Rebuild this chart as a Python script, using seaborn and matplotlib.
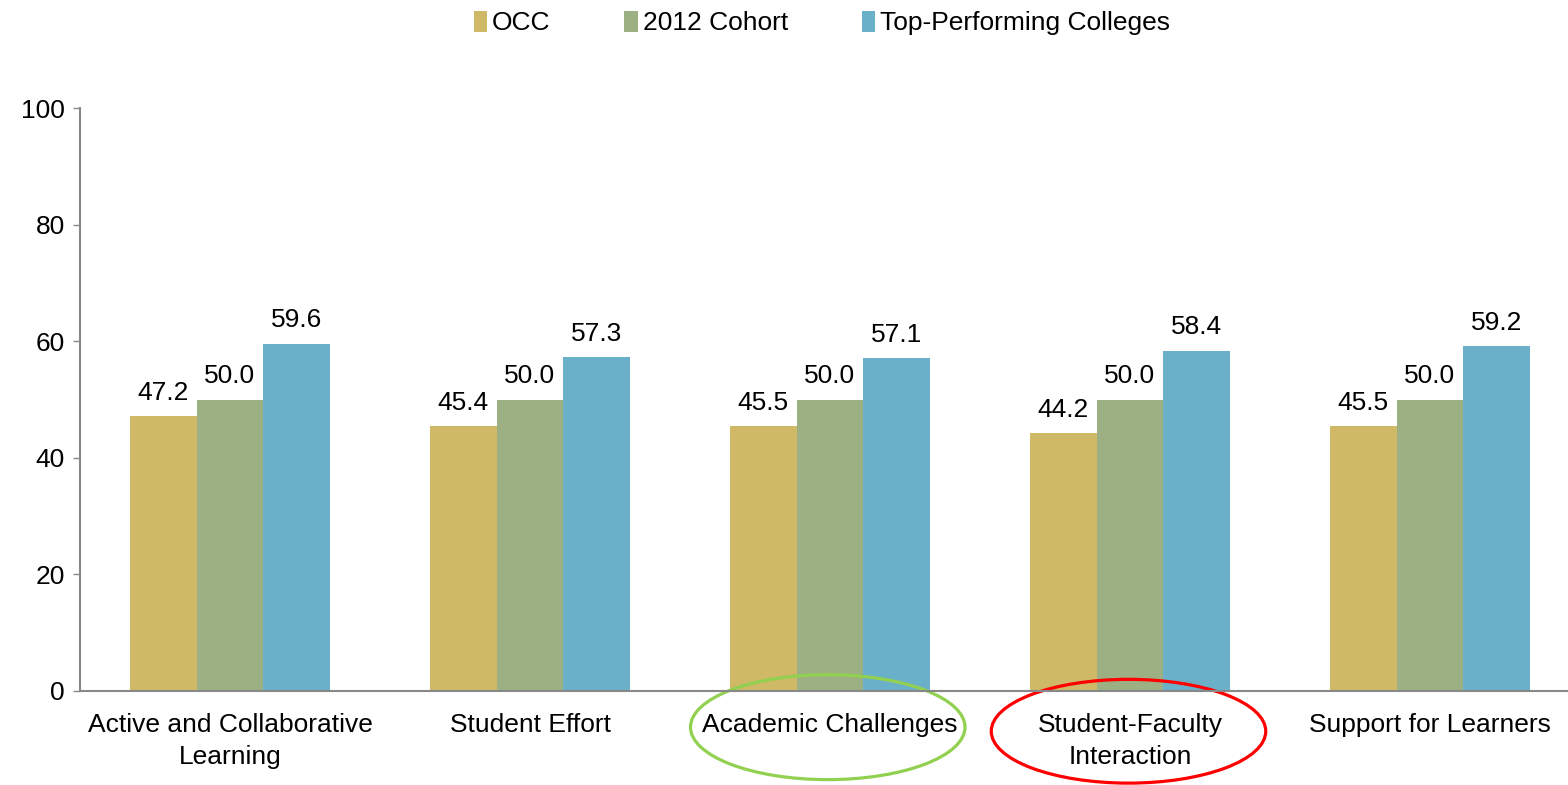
import pandas as pd
import seaborn as sns
import matplotlib.pyplot as plt
from matplotlib.patches import Ellipse

categories = ["Active and Collaborative\nLearning", "Student Effort", "Academic Challenges",
              "Student-Faculty\nInteraction", "Support for Learners"]
series = ["OCC", "2012 Cohort", "Top-Performing Colleges"]
occ = [47.2, 45.4, 45.5, 44.2, 45.5]
cohort = [50.0, 50.0, 50.0, 50.0, 50.0]
top = [59.6, 57.3, 57.1, 58.4, 59.2]
colors = ["#CFB967", "#9DB084", "#6AB0C9"]

df = pd.DataFrame({
    "category": categories * 3,
    "group": [s for s in series for _ in categories],
    "score": occ + cohort + top,
})

sns.set_style("white")
plt.rcParams['font.family'] = ['Liberation Sans', 'DejaVu Sans']
plt.rcParams['text.color'] = 'black'
plt.rcParams['xtick.color'] = 'black'
plt.rcParams['ytick.color'] = 'black'

fs = 19

fig = plt.figure(figsize=(15.68, 7.85), dpi=100)
ax = fig.add_axes([80 / 1568, 94 / 785, 1500 / 1568, 583 / 785])

sns.barplot(data=df, x="category", y="score", hue="group", palette=colors,
            width=0.667, gap=0, saturation=1, linewidth=0, ax=ax, legend=True)

for container in ax.containers:
    ax.bar_label(container, fmt="%.1f", padding=8, fontsize=fs, color="black")

ax.set_xlim(-0.5, 4.5)
ax.set_ylim(0, 100)
ax.set_yticks([0, 20, 40, 60, 80, 100])
ax.set_xlabel("")
ax.set_ylabel("")
ax.tick_params(axis="y", labelsize=fs, length=5, width=1, color="#888888", labelcolor="black",
               left=True, pad=6)
ax.tick_params(axis="x", labelsize=fs, length=0, pad=16, labelcolor="black")
for lbl in ax.get_xticklabels():
    lbl.set_linespacing(1.4)
for side in ["top", "right"]:
    ax.spines[side].set_visible(False)
for side in ["left", "bottom"]:
    ax.spines[side].set_color("#888888")
    ax.spines[side].set_linewidth(1.5)

handles, labels = ax.get_legend_handles_labels()
ax.get_legend().remove()
fig.legend(handles, labels, loc="center", bbox_to_anchor=(822 / 1568, 1 - 23 / 785),
           ncol=3, frameon=False, fontsize=fs, handlelength=0.5, handleheight=0.85,
           handletextpad=0.2, columnspacing=2.8)

ax.add_patch(Ellipse((0.4985, -0.062), 0.183, 0.18, transform=ax.transAxes, fill=False,
                     edgecolor="#92D050", linewidth=2.3, clip_on=False))
ax.add_patch(Ellipse((0.699, -0.069), 0.183, 0.178, transform=ax.transAxes, fill=False,
                     edgecolor="#FF0000", linewidth=2.3, clip_on=False))

fig.savefig("out.png", dpi=100)
